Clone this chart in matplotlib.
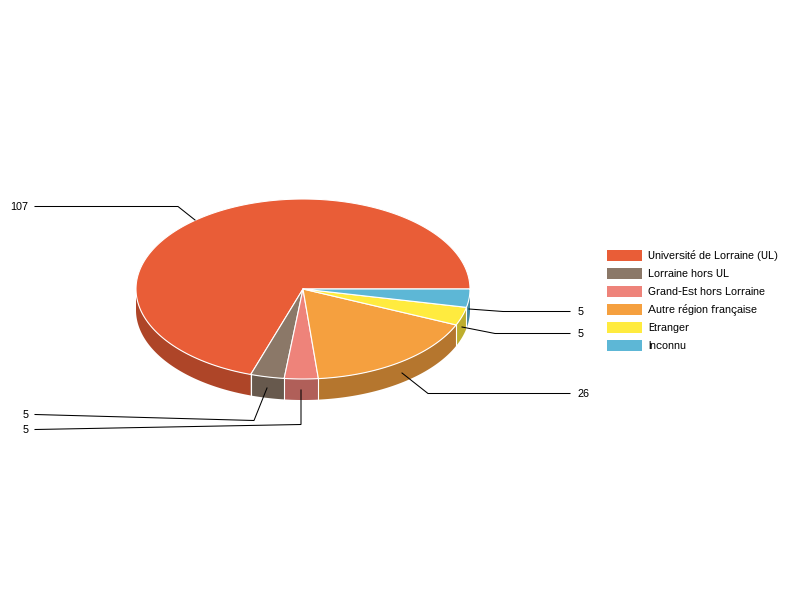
import numpy as np
import matplotlib
matplotlib.use('Agg')
import matplotlib.pyplot as plt

plt.rcParams['font.family'] = ['Liberation Sans', 'DejaVu Sans']
plt.rcParams['text.hinting'] = 'no_autohint'
plt.rcParams['text.hinting_factor'] = 1

categories = ['Université de Lorraine (UL)', 'Lorraine hors UL', 'Grand-Est hors Lorraine',
              'Autre région française', 'Etranger', 'Inconnu']
values = [107, 5, 5, 26, 5, 5]
top_colors = ['#E95D37', '#8B7868', '#EE837A', '#F5A03F', '#FFEB3F', '#5DB7D6']
side_colors = ['#AE4528', '#67594D', '#B05F59', '#B5762E', '#BDAE2E', '#45879E']

# pixel layout of the pie
cx, cy = 303, 289
rx, ry = 167, 90
depth = 21

# leader lines: points in pixels, then label x and alignment, per slice
leaders = [
    ([(195, 220), (178, 206.5), (35, 206.5)], 28.5, 'right'),
    ([(267, 388), (254, 420.5), (35, 414.5)], 28.5, 'right'),
    ([(301, 390), (301, 424.5), (35, 429.5)], 28.5, 'right'),
    ([(402, 373), (428, 393.5), (570, 393.5)], 577.5, 'left'),
    ([(462, 327), (495, 333.5), (570, 333.5)], 577.5, 'left'),
    ([(469, 309), (503, 311.5), (570, 311.5)], 577.5, 'left'),
]

fig = plt.figure(figsize=(8, 6), dpi=100)
ax = fig.add_axes([0, 0, 1, 1])
ax.set_xlim(0, 800)
ax.set_ylim(600, 0)
ax.axis('off')


def ell(t):
    t = np.radians(t)
    return cx + rx * np.cos(t), cy - ry * np.sin(t)


edges = np.concatenate([[0], np.cumsum(values)]) / sum(values) * 360

# side walls, only the front half of the ellipse shows
for i in range(len(values)):
    a, b = max(edges[i], 180), edges[i + 1]
    if b <= a:
        continue
    x, y = ell(np.linspace(a, b, 120))
    ax.fill(np.r_[x, x[::-1]], np.r_[y, (y + depth)[::-1]], fc=side_colors[i], ec='none', zorder=1)
    if i < len(values) - 1:
        ax.plot([x[-1], x[-1]], [y[-1], y[-1] + depth], color='white', lw=0.8, zorder=2)

# top face
for i in range(len(values)):
    x, y = ell(np.linspace(edges[i], edges[i + 1], 300))
    ax.fill(np.r_[cx, x], np.r_[cy, y], fc=top_colors[i], ec='white', lw=0.8, joinstyle='round', zorder=3)

# leader lines and value labels
for val, (pts, tx, ha) in zip(values, leaders):
    px, py = zip(*pts)
    ax.plot(px, py, color='black', lw=0.75, zorder=4, solid_joinstyle='miter')
    ax.text(tx, py[-1] + 0.5, str(val), ha=ha, va='center', fontsize=7.85, color='black', zorder=5)

# legend
for i, name in enumerate(categories):
    y0 = 250 + 18 * i
    ax.add_patch(plt.Rectangle((607, y0), 35, 10.5, fc=top_colors[i], ec='none'))
    ax.text(648, y0 + 5.8, name, ha='left', va='center', fontsize=7.85, color='black')

plt.savefig('out.png', dpi=100)
